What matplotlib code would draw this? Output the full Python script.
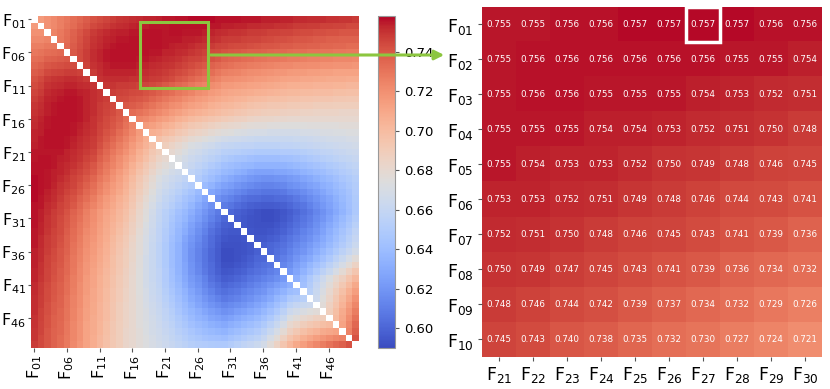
import numpy as np
import matplotlib
matplotlib.use("Agg")
import matplotlib.pyplot as plt
from matplotlib.patches import Rectangle, FancyArrowPatch

# ── Data ──────────────────────────────────────────────────────────────────────
# upper triangle of the 50x50 similarity matrix, row i holds F(i+1)..F50 (x1000)
upper_rows = [
    "715 719 722 726 729 732 735 738 741 743 745 747 749 750 751 752 753 753 754 755 755 756 756 757 757 757 757 756 756 756 756 755 755 755 754 754 754 753 753 752 752 751 751 751 750 750 749 749 748",
    "719 722 726 730 733 737 740 744 746 748 750 751 752 753 754 754 755 755 755 756 756 756 756 756 756 755 755 754 754 753 753 752 752 751 751 750 750 749 748 748 747 747 746 746 745 745 744 744",
    "724 728 732 736 740 744 748 750 752 753 754 754 755 755 756 756 756 755 756 756 755 755 755 754 753 752 751 750 750 749 748 748 747 746 746 745 745 744 743 743 742 742 741 741 740 740 740",
    "729 733 737 741 745 749 751 753 754 755 755 756 756 756 756 756 755 755 755 754 754 753 752 751 750 748 747 747 746 745 745 744 743 742 742 741 740 740 739 738 738 737 737 736 736 736",
    "734 738 742 746 750 752 754 755 756 756 756 756 756 756 756 755 754 753 753 752 750 749 748 746 745 744 743 743 742 741 740 740 739 738 738 737 737 736 736 735 735 734 734 733 733",
    "739 743 747 751 753 755 756 756 756 756 756 756 755 755 753 753 752 751 749 748 746 744 743 741 740 739 738 737 737 736 735 734 734 733 732 732 731 731 730 730 729 729 728 728",
    "743 747 751 753 755 756 756 756 756 755 755 754 753 752 751 750 748 746 745 743 741 739 736 735 734 733 732 731 730 729 729 728 727 727 726 725 725 724 724 723 723 723 722",
    "746 750 752 754 755 755 755 755 754 753 752 751 750 749 747 745 743 741 739 736 734 732 731 729 728 727 726 725 724 723 722 722 721 721 720 720 719 719 718 718 718 717",
    "748 751 753 753 753 753 753 752 751 750 749 748 746 744 742 739 737 734 732 729 726 725 724 722 721 720 719 718 717 717 716 715 715 714 714 713 713 712 712 712 712",
    "750 751 751 751 751 750 750 749 748 747 745 743 740 738 735 732 730 727 724 721 720 719 718 717 716 715 714 713 712 711 711 710 710 709 709 708 708 708 707 707",
    "749 749 748 748 747 746 745 744 742 739 737 734 732 729 726 724 721 719 716 715 714 713 712 711 710 709 708 707 706 706 705 705 704 704 704 703 703 702 702",
    "747 746 745 744 743 741 739 737 734 732 729 727 724 721 719 716 714 711 710 709 708 707 706 705 704 703 702 701 701 700 700 699 699 699 698 698 697 697",
    "744 743 741 740 738 735 732 729 726 724 721 718 716 714 711 709 707 706 704 703 701 700 699 698 698 697 696 696 695 695 694 694 694 693 693 692 692",
    "739 738 736 733 730 727 724 721 719 716 713 711 709 706 704 702 701 699 698 696 695 694 693 693 692 691 691 690 690 689 689 689 688 688 688 688",
    "733 731 728 725 722 719 716 713 710 707 705 703 701 699 697 696 694 693 691 690 689 688 688 687 686 686 685 685 684 684 684 684 683 683 683",
    "724 722 719 716 713 710 706 703 700 698 696 694 692 690 689 687 686 684 683 682 682 681 681 680 680 680 680 680 680 680 680 680 680 680",
    "715 713 710 706 703 699 696 693 691 689 686 684 682 681 680 678 677 676 676 675 675 674 674 674 674 675 675 675 675 675 676 676 676",
    "706 704 700 697 693 690 686 684 682 679 677 675 674 672 671 670 669 669 668 668 668 668 668 669 669 670 671 671 672 672 673 673",
    "697 693 690 686 683 679 677 674 672 669 667 666 665 664 663 662 662 662 662 662 662 663 663 664 665 666 667 668 668 669 670",
    "688 684 680 676 672 670 667 665 662 660 659 658 657 657 656 656 656 656 657 657 658 659 660 661 662 663 664 665 666 667",
    "680 676 672 668 665 662 659 657 654 653 652 651 650 649 649 649 649 650 650 651 652 654 655 657 658 660 661 663 664",
    "672 668 664 661 658 655 652 649 647 645 644 642 641 641 641 641 642 643 644 646 648 650 652 654 656 658 659 661",
    "665 661 657 654 650 647 643 641 639 637 636 634 634 634 634 635 636 638 640 642 644 646 649 651 653 656 658",
    "657 653 649 645 642 638 636 633 631 628 626 626 626 627 628 629 631 634 636 639 641 644 647 650 652 655",
    "650 645 641 636 632 629 626 624 621 619 618 618 619 620 622 624 627 630 633 636 639 642 646 649 652",
    "639 635 630 626 623 620 617 615 613 612 612 613 614 617 619 622 625 628 632 635 639 643 647 651",
    "628 624 620 617 614 611 609 608 606 606 607 608 611 613 616 620 623 628 632 636 640 644 650",
    "618 614 611 608 605 603 602 601 601 602 603 605 608 611 615 619 624 628 633 638 643 649",
    "609 606 603 600 598 597 596 596 597 598 601 604 607 611 616 621 626 631 636 642 648",
    "601 598 596 594 592 591 591 592 594 597 600 604 608 613 618 623 629 635 641 648",
    "597 595 593 592 591 591 592 595 598 602 606 610 615 620 626 632 638 644 651",
    "595 593 592 592 592 594 597 600 604 608 612 617 623 629 635 641 647 654",
    "594 593 593 594 596 599 603 607 611 615 620 626 632 638 644 650 657",
    "595 595 597 599 602 606 610 614 618 623 629 635 641 647 653 660",
    "598 600 602 605 609 613 617 622 627 632 638 644 650 656 663",
    "601 604 607 611 616 620 625 631 637 643 649 655 661 668",
    "606 610 614 620 625 630 636 642 648 655 662 669 676",
    "613 617 624 630 636 642 648 655 662 669 677 685",
    "621 627 634 641 648 655 662 670 678 686 694",
    "632 640 648 656 664 672 680 687 695 702",
    "642 651 660 668 676 684 692 700 709",
    "653 662 671 680 689 697 706 714",
    "664 674 683 692 701 710 719",
    "676 686 695 704 714 723",
    "688 698 708 717 727",
    "700 710 720 731",
    "712 723 734",
    "725 737",
    "741",
]

# zoomed block: rows F01-F10, columns F21-F30
zoom_vals = [
    [0.755, 0.755, 0.756, 0.756, 0.757, 0.757, 0.757, 0.757, 0.756, 0.756],
    [0.755, 0.756, 0.756, 0.756, 0.756, 0.756, 0.756, 0.755, 0.755, 0.754],
    [0.755, 0.756, 0.756, 0.755, 0.755, 0.755, 0.754, 0.753, 0.752, 0.751],
    [0.755, 0.755, 0.755, 0.754, 0.754, 0.753, 0.752, 0.751, 0.750, 0.748],
    [0.755, 0.754, 0.753, 0.753, 0.752, 0.750, 0.749, 0.748, 0.746, 0.745],
    [0.753, 0.753, 0.752, 0.751, 0.749, 0.748, 0.746, 0.744, 0.743, 0.741],
    [0.752, 0.751, 0.750, 0.748, 0.746, 0.745, 0.743, 0.741, 0.739, 0.736],
    [0.750, 0.749, 0.747, 0.745, 0.743, 0.741, 0.739, 0.736, 0.734, 0.732],
    [0.748, 0.746, 0.744, 0.742, 0.739, 0.737, 0.734, 0.732, 0.729, 0.726],
    [0.745, 0.743, 0.740, 0.738, 0.735, 0.732, 0.730, 0.727, 0.724, 0.721],
]
zoom_rows = [f"F$_{{{k:02d}}}$" for k in range(1, 11)]
zoom_cols = [f"F$_{{{k:02d}}}$" for k in range(21, 31)]
full_ticks = [f"F$_{{{k:02d}}}$" for k in range(1, 51, 5)]
cbar_ticks = [0.60, 0.62, 0.64, 0.66, 0.68, 0.70, 0.72, 0.74]
highlight = (0, 6)   # (row, col) inside the zoomed block

n = len(upper_rows) + 1
M = np.full((n, n), np.nan)
for i, row in enumerate(upper_rows):
    v = np.array(row.split(), float) / 1000
    M[i, i + 1:] = v
    M[i + 1:, i] = v

VMIN, VMAX = 0.590, 0.758
GREEN = "#8cc63f"

# ── Figure ────────────────────────────────────────────────────────────────────
fig = plt.figure(figsize=(8.3, 3.89), dpi=100)
ax = fig.add_axes([0.0373, 0.106, 0.394, 0.853])
cax = fig.add_axes([0.4554, 0.106, 0.0205, 0.853])
axz = fig.add_axes([0.5807, 0.0823, 0.4096, 0.900])

# (a) full matrix
im = ax.imshow(np.ma.masked_invalid(M), cmap="coolwarm", vmin=VMIN, vmax=VMAX,
               aspect="auto", interpolation="nearest", extent=(0, n, n, 0))
ax.set_xticks(np.arange(0, n, 5) + 0.5)
ax.set_yticks(np.arange(0, n, 5) + 0.5)
ax.set_xticklabels(full_ticks, rotation=90, fontsize=11.5)
ax.set_yticklabels(full_ticks, fontsize=11.5)
ax.tick_params(axis="x", length=3, width=0.8, color="#555555", pad=2)
ax.tick_params(axis="y", length=2.5, width=0.8, color="#555555", pad=1)
for s in ax.spines.values():
    s.set_visible(False)
ax.add_patch(Rectangle((16.7, 0.9), 10.4, 9.9, fill=False, ec=GREEN, lw=2.2,
                       zorder=5))

cb = fig.colorbar(im, cax=cax, ticks=cbar_ticks)
cb.ax.set_yticklabels([f"{t:.2f}" for t in cbar_ticks])
cb.ax.tick_params(labelsize=9.5, length=3, width=0.8, color="#555555")
cb.outline.set_edgecolor("#999999")
cb.outline.set_linewidth(0.8)

# (b) zoomed block
Z = np.array(zoom_vals)
axz.imshow(Z, cmap="coolwarm", vmin=VMIN, vmax=VMAX, aspect="auto",
           interpolation="nearest", extent=(0, Z.shape[1], Z.shape[0], 0))
for r in range(Z.shape[0]):
    for c in range(Z.shape[1]):
        axz.text(c + 0.5, r + 0.5, f"{Z[r, c]:.3f}", ha="center", va="center",
                 color="white", fontsize=6.3)
axz.set_xticks(np.arange(Z.shape[1]) + 0.5)
axz.set_yticks(np.arange(Z.shape[0]) + 0.5)
axz.set_xticklabels(zoom_cols, fontsize=12.5)
axz.set_yticklabels(zoom_rows, fontsize=12.5, rotation=0)
axz.tick_params(length=3, width=0.8, color="#555555", pad=3)
for s in axz.spines.values():
    s.set_visible(False)
axz.add_patch(Rectangle((highlight[1], highlight[0]), 1, 1, fill=False,
                        ec="white", lw=2.5, zorder=5))

# connector arrow from the green box to the zoomed block
arrow = FancyArrowPatch((208 / 830, 1 - 55 / 389), (447 / 830, 1 - 55 / 389),
                        transform=fig.transFigure, arrowstyle="-|>",
                        mutation_scale=14, color=GREEN, lw=2.2, zorder=10)
fig.patches.append(arrow)

plt.savefig("out.png", dpi=100)
